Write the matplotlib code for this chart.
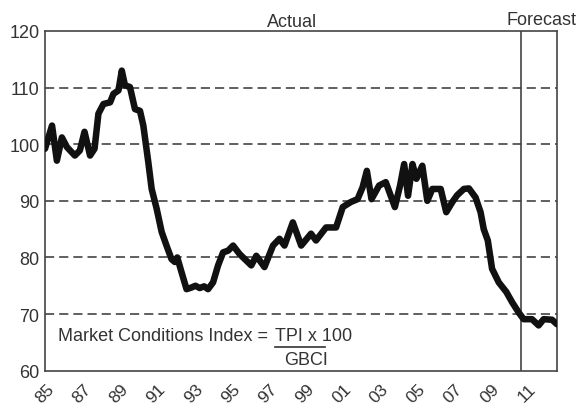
import matplotlib
matplotlib.use("Agg")
import matplotlib.pyplot as plt
import numpy as np

plt.rcParams['font.family'] = ['Liberation Sans', 'DejaVu Sans']

# Data (year, index value)
years = [1985.0, 1985.38, 1985.64, 1985.91, 1986.18, 1986.61, 1986.88, 1987.13, 1987.43,
         1987.67, 1987.88, 1988.15, 1988.51, 1988.69, 1988.96, 1989.14, 1989.31, 1989.58,
         1989.85, 1990.12, 1990.30, 1990.57, 1990.75, 1991.02, 1991.29, 1991.55, 1991.82,
         1992.00, 1992.13, 1992.36, 1992.63, 1992.90, 1993.11, 1993.34, 1993.58, 1993.79,
         1994.06, 1994.33, 1994.60, 1994.87, 1995.14, 1995.49, 1996.12, 1996.39, 1996.83,
         1997.29, 1997.64, 1997.91, 1998.36, 1998.81, 1999.34, 1999.61, 2000.15, 2000.69,
         2001.05, 2001.49, 2001.85, 2002.12, 2002.35, 2002.60, 2003.01, 2003.37, 2003.86,
         2004.14, 2004.36, 2004.57, 2004.81, 2005.02, 2005.34, 2005.61, 2005.88, 2006.33,
         2006.63, 2006.96, 2007.22, 2007.58, 2007.85, 2008.21, 2008.48, 2008.65, 2008.87,
         2009.10, 2009.46, 2009.87, 2010.18, 2010.53, 2010.80, 2011.25, 2011.61, 2011.88,
         2012.33, 2012.60]
index = [99.2, 103.3, 97.1, 101.2, 99.5, 98.0, 98.9, 102.2, 98.0,
         99.2, 105.4, 107.1, 107.4, 108.9, 109.5, 113.0, 110.4, 110.1,
         106.2, 105.9, 103.3, 96.8, 92.1, 88.6, 84.5, 82.1, 79.7,
         79.2, 80.0, 77.4, 74.4, 74.7, 75.0, 74.6, 74.9, 74.4,
         75.6, 78.6, 80.9, 81.2, 82.1, 80.6, 78.6, 80.3, 78.3,
         82.1, 83.3, 82.1, 86.2, 82.1, 84.2, 83.0, 85.3, 85.3,
         88.9, 89.8, 90.3, 92.4, 95.3, 90.3, 92.7, 93.3, 88.9,
         92.7, 96.5, 90.9, 96.5, 93.9, 96.2, 90.0, 92.1, 92.1,
         88.0, 89.8, 91.0, 92.1, 92.2, 90.6, 88.0, 85.0, 83.0,
         78.0, 75.6, 73.9, 72.1, 70.3, 69.1, 69.1, 68.0, 69.1,
         69.0, 68.2]

tick_years = list(range(1985, 2012, 2))
tick_labels = ["85", "87", "89", "91", "93", "95", "97", "99", "01", "03", "05", "07", "09", "11"]
y_ticks = [60, 70, 80, 90, 100, 110, 120]
grid_levels = [70, 80, 90, 100, 110]
forecast_start = 2010.68

text_color = "#333333"
spine_color = "#444444"
fs = 13

fig = plt.figure(figsize=(5.79, 4.10), dpi=100)
ax = fig.add_axes([45/579, 1 - 371.7/410, (557-45)/579, (371.7-32)/410])

for g in grid_levels:
    ax.axhline(g, color=spine_color, lw=1.2, dashes=(5.5, 3), zorder=1)

ax.axvline(forecast_start, color=spine_color, lw=1.2, zorder=2)

ax.plot(years, index, color="#111111", lw=4.7, solid_joinstyle="round",
        solid_capstyle="round", zorder=3)

ax.set_xlim(1985, 2012.6)
ax.set_ylim(60, 120)
ax.set_yticks(y_ticks)
ax.set_yticklabels([str(v) for v in y_ticks], fontsize=fs, color=text_color)
ax.set_xticks(tick_years)
ax.set_xticklabels(tick_labels, rotation=45, ha="center", fontsize=12.5, color=text_color)
ax.tick_params(axis="both", length=0)
ax.tick_params(axis="y", pad=4)
ax.tick_params(axis="x", pad=7)

for s in ax.spines.values():
    s.set_color(spine_color)
    s.set_linewidth(1.2)

ax.text(0.482, 1.0147, "Actual", transform=ax.transAxes, ha="center", va="baseline",
        fontsize=fs, color=text_color)
ax.text(0.969, 1.0206, "Forecast", transform=ax.transAxes, ha="center", va="baseline",
        fontsize=fs, color=text_color, clip_on=False)

# Formula annotation
ax.text(1985.7, 65.4, "Market Conditions Index =", ha="left", va="baseline",
        fontsize=fs, color=text_color)
ax.text(1997.4, 65.4, "TPI x 100", ha="left", va="baseline", fontsize=fs, color=text_color)
ax.plot([1997.4, 2000.1], [64.2, 64.2], color=text_color, lw=1.2)
ax.text(1997.9, 61.2, "GBCI", ha="left", va="baseline", fontsize=fs, color=text_color)

fig.savefig("out.png", dpi=100)
